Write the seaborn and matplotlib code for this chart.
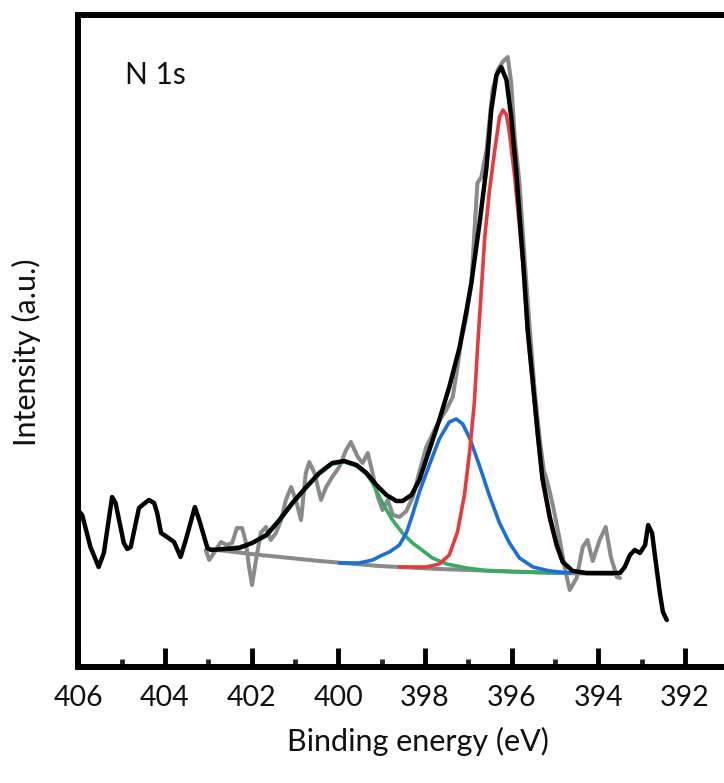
"""N 1s XPS spectrum with peak deconvolution."""

import matplotlib
matplotlib.use("Agg")
import matplotlib.pyplot as plt
import seaborn as sns

sns.set_style("white")
plt.rcParams['font.family'] = ['Lato', 'DejaVu Sans']

# Envelope / measured trace (black), binding energy in eV and intensity in a.u.
black_e = [405.97, 405.91, 405.72, 405.53, 405.41, 405.22, 405.14, 404.95,
           404.87, 404.79, 404.60, 404.52, 404.37, 404.25, 404.18, 404.09,
           403.95, 403.79, 403.64, 403.52, 403.31, 403.21, 403.02, 402.94,
           402.64, 402.29, 401.99, 401.66, 401.36, 401.06, 400.74, 400.44,
           400.14, 399.86, 399.58, 399.35, 399.12, 398.89, 398.66, 398.52,
           398.31, 398.13, 397.90, 397.67, 397.44, 397.20, 397.04, 396.93,
           396.74, 396.58, 396.47, 396.35, 396.24, 396.12, 396.01, 395.89,
           395.82, 395.73, 395.63, 395.51, 395.40, 395.29, 395.12, 394.96,
           394.82, 394.59, 394.27, 393.80, 393.50, 393.39, 393.27, 393.16,
           393.04, 392.92, 392.85, 392.76, 392.69, 392.58, 392.51, 392.42]
black_i = [155, 152, 120, 100, 114, 170, 164, 124,
           118, 120, 159, 162, 167, 164, 154, 134,
           130, 125, 110, 127, 160, 147, 119, 117,
           118, 119, 124, 132, 147, 164, 180, 194,
           204, 206, 202, 194, 182, 172, 166, 166,
           172, 187, 217, 247, 280, 320, 357, 384,
           444, 500, 557, 592, 600, 587, 550, 494,
           452, 402, 337, 284, 234, 189, 150, 122,
           105, 96, 94, 94, 94, 100, 112, 117,
           114, 122, 142, 134, 110, 74, 55, 47]

# Raw data (grey)
raw_e = [403.06, 402.98, 402.87, 402.71, 402.57, 402.45, 402.34, 402.22,
         402.13, 402.06, 401.99, 401.90, 401.79, 401.67, 401.56, 401.44,
         401.32, 401.21, 401.09, 400.98, 400.86, 400.75, 400.67, 400.55,
         400.40, 400.28, 400.14, 399.98, 399.82, 399.71, 399.55, 399.44,
         399.32, 399.21, 399.09, 398.98, 398.86, 398.74, 398.59, 398.43,
         398.28, 398.13, 397.97, 397.78, 397.63, 397.51, 397.36, 397.25,
         397.16, 397.05, 396.93, 396.79, 396.70, 396.58, 396.44, 396.32,
         396.21, 396.09, 396.01, 395.93, 395.82, 395.70, 395.58, 395.47,
         395.35, 395.26, 395.17, 395.05, 394.89, 394.78, 394.66, 394.50,
         394.36, 394.25, 394.13, 393.97, 393.83, 393.71, 393.57, 393.50]
raw_i = [117, 107, 114, 125, 122, 124, 139, 139,
         124, 100, 82, 107, 134, 140, 127, 134,
         147, 167, 180, 167, 147, 194, 205, 194,
         167, 180, 190, 200, 217, 225, 210, 204,
         214, 194, 170, 157, 167, 152, 150, 156,
         170, 195, 220, 237, 249, 257, 270, 300,
         327, 349, 384, 484, 490, 517, 577, 597,
         605, 610, 584, 530, 484, 407, 337, 277,
         227, 197, 184, 162, 127, 100, 77, 89,
         120, 127, 106, 127, 140, 110, 90, 89]

# Background (grey)
bg_e = [402.99, 401.80, 400.43, 399.05, 397.67, 396.31, 394.93, 393.67]
bg_i = [118, 112, 106, 101, 98, 96, 94, 93]

# Fitted components
green_e = [402.75, 402.29, 401.99, 401.66, 401.36, 401.06, 400.74, 400.44,
           400.14, 399.86, 399.58, 399.35, 399.21, 398.98, 398.75, 398.52,
           398.29, 398.13, 397.83, 397.50, 397.04, 396.51, 395.82, 394.89]
green_i = [118, 120, 124, 131, 146, 163, 179, 193,
           203, 205, 201, 193, 184, 164, 147, 134,
           124, 119, 109, 103, 99, 96, 95, 94]

blue_e = [399.98, 399.52, 399.21, 398.98, 398.82, 398.59, 398.43, 398.29,
          398.13, 397.90, 397.67, 397.44, 397.28, 397.13, 396.97, 396.74,
          396.51, 396.28, 396.05, 395.82, 395.51, 395.12, 394.66]
blue_i = [104, 104, 107, 112, 115, 122, 134, 152,
          175, 202, 228, 245, 248, 243, 229, 201,
          171, 144, 124, 109, 100, 96, 94]

red_e = [398.59, 397.97, 397.67, 397.44, 397.25, 397.09, 396.97, 396.86,
         396.79, 396.70, 396.62, 396.51, 396.39, 396.28, 396.20, 396.12,
         396.05, 395.93, 395.84, 395.73, 395.63, 395.51, 395.40, 395.29,
         395.12, 394.96, 394.82, 394.59, 394.27]
red_i = [100, 100, 103, 112, 135, 172, 215, 265,
         317, 377, 430, 477, 517, 550, 557, 552,
         534, 490, 450, 398, 333, 280, 230, 186,
         147, 120, 104, 96, 94]

major_ticks = [406, 404, 402, 400, 398, 396, 394, 392]
minor_ticks = [405, 403, 401, 399, 397, 395, 393]

W, H = 724, 783
fig = plt.figure(figsize=(W / 100, H / 100), dpi=100)
ax = fig.add_axes([78.3 / W, (H - 667) / H, 1 - 78.3 / W, (667 - 15) / H])

kw = dict(ax=ax, sort=False, estimator=None, solid_joinstyle='round')
sns.lineplot(x=raw_e, y=raw_i, color='#8a8a8a', lw=2.9, **kw)
sns.lineplot(x=bg_e, y=bg_i, color='#8a8a8a', lw=2.9, **kw)
sns.lineplot(x=green_e, y=green_i, color='#3aaa62', lw=2.6, **kw)
sns.lineplot(x=blue_e, y=blue_i, color='#1c6fd6', lw=2.6, **kw)
sns.lineplot(x=red_e, y=red_i, color='#e8393c', lw=2.6, **kw)
sns.lineplot(x=black_e, y=black_i, color='black', lw=3.2, **kw)

ax.set_xlim(406, 391.1)
ax.set_ylim(0, 652)
ax.set_xticks(major_ticks)
ax.set_xticks(minor_ticks, minor=True)
ax.set_xticklabels([str(t) for t in major_ticks])
ax.set_yticks([])
ax.tick_params(axis='x', which='major', direction='in', length=14, width=3.5,
               labelsize=20.5, pad=13, colors='black')
ax.tick_params(axis='x', which='minor', direction='in', length=6, width=3.5)
ax.tick_params(axis='x', which='both', bottom=True)
for lab in ax.get_xticklabels():
    lab.set_color('#111111')

for side in ['left', 'bottom', 'top']:
    ax.spines[side].set_linewidth(4.3)
    ax.spines[side].set_color('black')
ax.spines['right'].set_visible(False)

ax.set_xlabel('Binding energy (eV)', fontsize=22, color='#111111')
ax.set_ylabel('Intensity (a.u.)', fontsize=22, color='#111111')
# label anchors: x-label top edge, y-label right edge (in axes fraction)
ax.xaxis.set_label_coords((418 - 78.3) / (W - 78.3), -(727 - 667) / 652)
ax.yaxis.set_label_coords(-(78.3 - 41) / (W - 78.3), (667 - 352) / 652)

ax.text(0.072, 0.908, 'N 1s', transform=ax.transAxes, fontsize=21.5,
        ha='left', va='center', color='#111111')

fig.savefig('out.png', dpi=100)
